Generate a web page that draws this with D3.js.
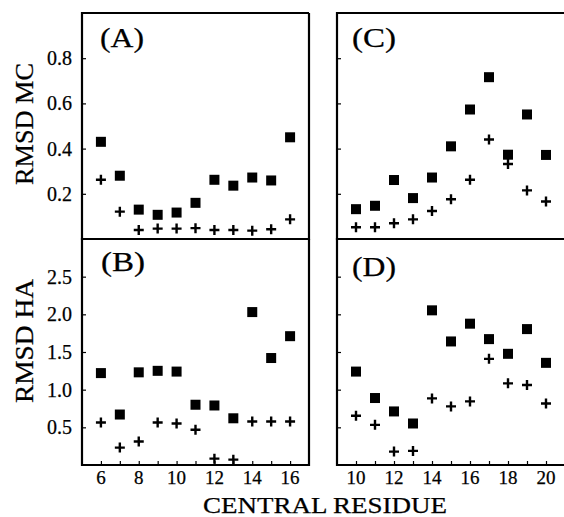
<!DOCTYPE html>
<html>
<head>
<meta charset="utf-8">
<script src="https://cdn.jsdelivr.net/npm/d3@7"></script>
<style>
  body { margin: 0; background: #fff; }
  svg { display: block; }
  text { font-family: "Liberation Serif", "Times New Roman", serif; fill: #000; stroke: #000; stroke-width: 0.25; }
</style>
</head>
<body>
<div id="chart"></div>
<script>
// residues (x) for each column of panels
const residuesLeft = [6, 7, 8, 9, 10, 11, 12, 13, 14, 15, 16];
const residuesRight = [10, 11, 12, 13, 14, 15, 16, 17, 18, 19, 20];

// (A) RMSD MC
const mcA_square = [0.43, 0.28, 0.13, 0.107, 0.117, 0.16, 0.262, 0.236, 0.272, 0.259, 0.45];
const mcA_plus   = [0.262, 0.121, 0.04, 0.046, 0.046, 0.048, 0.04, 0.04, 0.037, 0.043, 0.087];
// (C) RMSD MC
const mcC_square = [0.132, 0.147, 0.261, 0.181, 0.272, 0.41, 0.573, 0.716, 0.373, 0.551, 0.372];
const mcC_plus   = [0.052, 0.052, 0.07, 0.087, 0.124, 0.176, 0.262, 0.44, 0.332, 0.215, 0.166];
// (B) RMSD HA
const haB_square = [1.22, 0.67, 1.23, 1.25, 1.24, 0.8, 0.79, 0.62, 2.03, 1.42, 1.71];
const haB_plus   = [0.564, 0.231, 0.311, 0.564, 0.551, 0.467, 0.084, 0.071, 0.578, 0.578, 0.578];
// (D) RMSD HA
const haD_square = [1.24, 0.889, 0.711, 0.551, 2.053, 1.64, 1.876, 1.671, 1.476, 1.804, 1.356];
const haD_plus   = [0.653, 0.533, 0.178, 0.187, 0.884, 0.778, 0.844, 1.409, 1.084, 1.062, 0.817];

const yTicksMC = [0.2, 0.4, 0.6, 0.8];
const yTicksHA = [0.5, 1.0, 1.5, 2.0, 2.5];
const xTicksLeft = [6, 8, 10, 12, 14, 16];
const xTicksRight = [10, 12, 14, 16, 18, 20];

const width = 564, height = 517;
const svg = d3.select("#chart").append("svg")
    .attr("width", width)
    .attr("height", height);

const plotTop = 13, plotMid = 239, plotBottom = 465;

const xLeft = d3.scaleLinear().domain([5, 17]).range([82, 309]);
const xRight = d3.scaleLinear().domain([9, 21]).range([337, 565]);
const yMC = d3.scaleLinear().domain([0, 1]).range([plotMid, plotTop]);
const yHA = d3.scaleLinear().domain([0, 3]).range([plotBottom, plotMid]);

function drawPanel(x, y, xs, sq, pl, opts) {
    const g = svg.append("g");
    const [x0, x1] = x.range();
    const [y0, y1] = y.range();

    // inward ticks
    g.append("g")
        .attr("transform", `translate(${x0},0)`)
        .call(d3.axisRight(y).tickValues(opts.yTicks).tickSize(4).tickFormat(""))
        .call(a => a.select(".domain").remove())
        .selectAll("line").attr("stroke-width", 1.2);

    if (opts.xTicks) {
        g.append("g")
            .attr("transform", `translate(0,${y0})`)
            .call(d3.axisTop(x).tickValues(d3.range(x.domain()[0] + 1, x.domain()[1])).tickSize(4).tickFormat(""))
            .call(a => a.select(".domain").remove())
            .selectAll("line").attr("stroke-width", 1.2);
        opts.xTicks.forEach(t => {
            g.append("text")
                .attr("x", x(t))
                .attr("y", 484)
                .attr("text-anchor", "middle")
                .attr("font-size", 19)
                .text(t);
        });
    }

    if (opts.yLabels) {
        opts.yTicks.forEach(t => {
            g.append("text")
                .attr("x", 72)
                .attr("y", y(t))
                .attr("dy", "0.35em")
                .attr("text-anchor", "end")
                .attr("font-size", 20)
                .text(d3.format(".1f")(t));
        });
    }

    // frame
    g.append("path")
        .attr("d", `M${x1},${y1}H${x0}V${y0}H${x1}` + (opts.rightEdge ? `V${y1}` : ""))
        .attr("fill", "none")
        .attr("stroke", "#000")
        .attr("stroke-width", 2.2);

    // square markers
    g.selectAll("rect.sq")
        .data(xs.map((r, i) => [r, sq[i]]))
        .enter().append("rect")
        .attr("class", "sq")
        .attr("x", d => x(d[0]) - 5)
        .attr("y", d => y(d[1]) - 5)
        .attr("width", 10)
        .attr("height", 10)
        .attr("fill", "#000");

    // plus markers
    g.selectAll("path.pl")
        .data(xs.map((r, i) => [r, pl[i]]))
        .enter().append("path")
        .attr("class", "pl")
        .attr("d", d => `M${x(d[0]) - 5},${y(d[1])}h10M${x(d[0])},${y(d[1]) - 5}v10`)
        .attr("stroke", "#000")
        .attr("stroke-width", 2.4);

    g.append("text")
        .attr("x", opts.labelX)
        .attr("y", opts.labelY)
        .attr("font-size", 27)
        .attr("textLength", 44)
        .attr("lengthAdjust", "spacingAndGlyphs")
        .text(opts.label);
}

drawPanel(xLeft, yMC, residuesLeft, mcA_square, mcA_plus,
    { yTicks: yTicksMC, yLabels: true, rightEdge: true, label: "(A)", labelX: 100, labelY: 47 });
drawPanel(xRight, yMC, residuesRight, mcC_square, mcC_plus,
    { yTicks: yTicksMC, yLabels: false, rightEdge: false, label: "(C)", labelX: 352, labelY: 47 });
drawPanel(xLeft, yHA, residuesLeft, haB_square, haB_plus,
    { yTicks: yTicksHA, yLabels: true, rightEdge: true, xTicks: xTicksLeft, label: "(B)", labelX: 101, labelY: 271 });
drawPanel(xRight, yHA, residuesRight, haD_square, haD_plus,
    { yTicks: yTicksHA, yLabels: false, rightEdge: false, xTicks: xTicksRight, label: "(D)", labelX: 352, labelY: 276 });

// axis titles
svg.append("text")
    .attr("transform", "translate(33,124) rotate(-90)")
    .attr("text-anchor", "middle")
    .attr("font-size", 26)
    .attr("textLength", 122)
    .attr("lengthAdjust", "spacingAndGlyphs")
    .text("RMSD MC");

svg.append("text")
    .attr("transform", "translate(33,341) rotate(-90)")
    .attr("text-anchor", "middle")
    .attr("font-size", 26)
    .attr("textLength", 124)
    .attr("lengthAdjust", "spacingAndGlyphs")
    .text("RMSD HA");

svg.append("text")
    .attr("x", 325)
    .attr("y", 513)
    .attr("text-anchor", "middle")
    .attr("font-size", 24)
    .attr("textLength", 244)
    .attr("lengthAdjust", "spacingAndGlyphs")
    .text("CENTRAL RESIDUE");
</script>
</body>
</html>
